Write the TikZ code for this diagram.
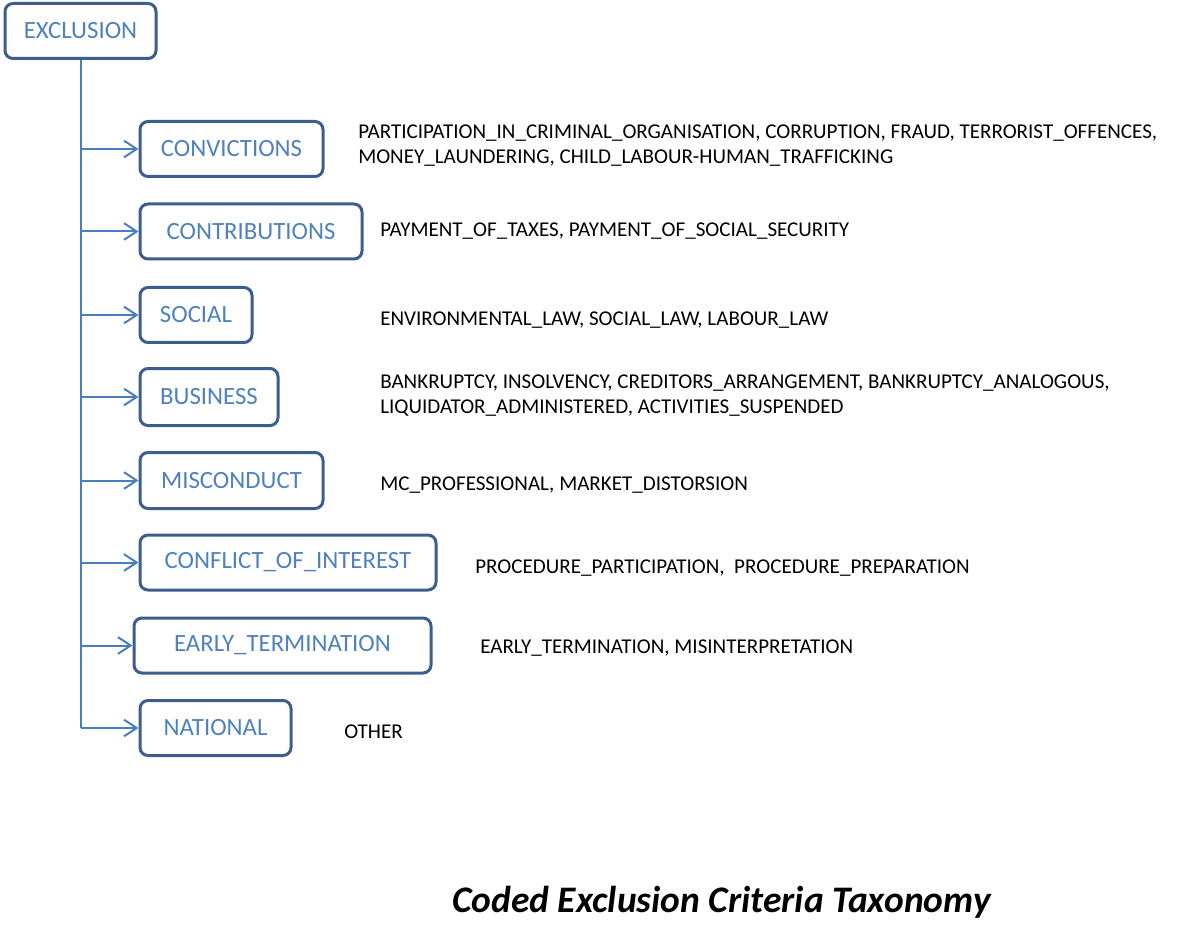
\documentclass[tikz,border=0pt]{standalone}
\usepackage{fontspec}
\setmainfont{Carlito}
\usetikzlibrary{arrows.meta}
\definecolor{boxline}{HTML}{3B5E8C}
\definecolor{labelblue}{HTML}{4F81BD}
\definecolor{linkblue}{HTML}{4A7EBB}
\begin{document}
\begin{tikzpicture}[x=0.75pt, y=-0.75pt,
    box/.style={draw=boxline, line width=2.25pt, rounded corners=6pt, fill=white,
      text=labelblue, font=\fontsize{18.6}{22}\selectfont, minimum height=41.25pt,
      anchor=west, inner sep=0pt},
    list/.style={anchor=base west, align=left, inner sep=0pt,
      font=\fontsize{15.8}{18.75}\selectfont},
    link/.style={draw=linkblue, line width=1.5pt},
    >={Straight Barb[length=9.5pt, width=12.5pt]}]
  \useasboundingbox (0,0) rectangle (1183,945);
  % root and the eight groups
  \node[box, minimum width=113.25pt] (exclusion) at (3.5,31) {EXCLUSION};
  \node[box, minimum width=137.25pt] (convictions) at (138.5,149) {CONVICTIONS};
  \node[box, minimum width=166.5pt] (contributions) at (138.5,231.5) {CONTRIBUTIONS};
  \node[box, minimum width=84pt] (social) at (138.5,315) {SOCIAL};
  \node[box, minimum width=103.5pt, minimum height=42.75pt] (business) at (138.5,397) {BUSINESS};
  \node[box, minimum width=137.25pt, minimum height=42pt] (misconduct) at (138.5,480.5) {MISCONDUCT};
  \node[box, minimum width=222pt] (conflict) at (138.5,562.5) {CONFLICT\_OF\_INTEREST};
  \node[box, minimum width=222.75pt] (early) at (132.5,645.5) {EARLY\_TERMINATION};
  \node[box, minimum width=113.25pt] (national) at (138.5,728) {NATIONAL};
  % trunk and branches
  \draw[link] (exclusion.south) -- (exclusion.south |- national.west);
  \foreach \grp in {convictions,contributions,social,business,misconduct,conflict,early,national}
    \draw[link,->] (exclusion.south |- \grp.west) -- (\grp.west);
  % criteria of each group (base = last line)
  \node[list] (convictions-list) at (358,164) {PARTICIPATION\_IN\_CRIMINAL\_ORGANISATION, CORRUPTION, FRAUD, TERRORIST\_OFFENCES,\\MONEY\_LAUNDERING, CHILD\_LABOUR-HUMAN\_TRAFFICKING};
  \node[list] (contributions-list) at (380,236.5) {PAYMENT\_OF\_TAXES, PAYMENT\_OF\_SOCIAL\_SECURITY};
  \node[list] (social-list) at (380,325.5) {ENVIRONMENTAL\_LAW, SOCIAL\_LAW, LABOUR\_LAW};
  \node[list] (business-list) at (380,413.5) {BANKRUPTCY, INSOLVENCY, CREDITORS\_ARRANGEMENT, BANKRUPTCY\_ANALOGOUS,\\LIQUIDATOR\_ADMINISTERED, ACTIVITIES\_SUSPENDED};
  \node[list] (misconduct-list) at (380,490.5) {MC\_PROFESSIONAL, MARKET\_DISTORSION};
  \node[list] (conflict-list) at (475,573.5) {PROCEDURE\_PARTICIPATION, \ PROCEDURE\_PREPARATION};
  \node[list] (early-list) at (480,653) {EARLY\_TERMINATION, MISINTERPRETATION};
  \node[list] (national-list) at (344,738) {OTHER};
  % caption
  \node[anchor=base west, inner sep=0pt, font=\fontsize{28.1}{33}\selectfont\bfseries\itshape]
    (caption) at (452,912.5) {Coded Exclusion Criteria Taxonomy};
\end{tikzpicture}
\end{document}
